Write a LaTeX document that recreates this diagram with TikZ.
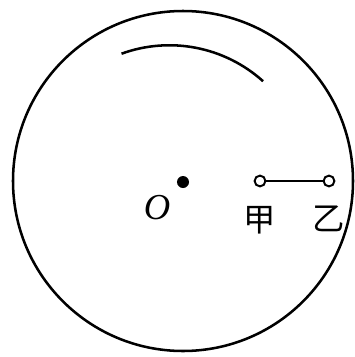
\documentclass[tikz,border=0pt]{standalone}
\usepackage{fontspec}
\newfontfamily\cjk{Noto Sans CJK SC}
\newfontfamily\lettr{Liberation Serif}
\usetikzlibrary{positioning}

\begin{document}
\begin{tikzpicture}[x=0.025cm,y=-0.025cm,line width=1.8pt]
    \tikzset{
      pivot/.style={circle, fill=black, inner sep=0pt, minimum size=0.3cm},
      ring/.style={circle, draw, fill=white, inner sep=0pt, minimum size=0.27cm, line width=1.4pt},
      tag/.style={inner sep=0pt, font=\fontsize{23}{23}\selectfont\cjk},
      centre/.style={inner sep=0pt, font=\fontsize{26}{26}\selectfont\lettr\itshape}
    }
    \useasboundingbox (0,0) rectangle (355,357);
    % disc and track
    \draw (183,181) circle [radius=170];
    \draw (121.5,53.7) arc [start angle=-110, end angle=-48, radius=140];
    % axis
    \node[pivot] (O) at (183,182) {};
    \node[centre, below left=0.16cm and 0.16cm of O] (Olab) {O};
    % rod
    \node[ring] (jia) at (260,181) {};
    \node[ring] (yi) at (329,181) {};
    \draw (jia) -- (yi);
    \node[tag, below=0.44cm of jia] (jialab) {甲};
    \node[tag, below=0.44cm of yi] (yilab) {乙};
\end{tikzpicture}
\end{document}
